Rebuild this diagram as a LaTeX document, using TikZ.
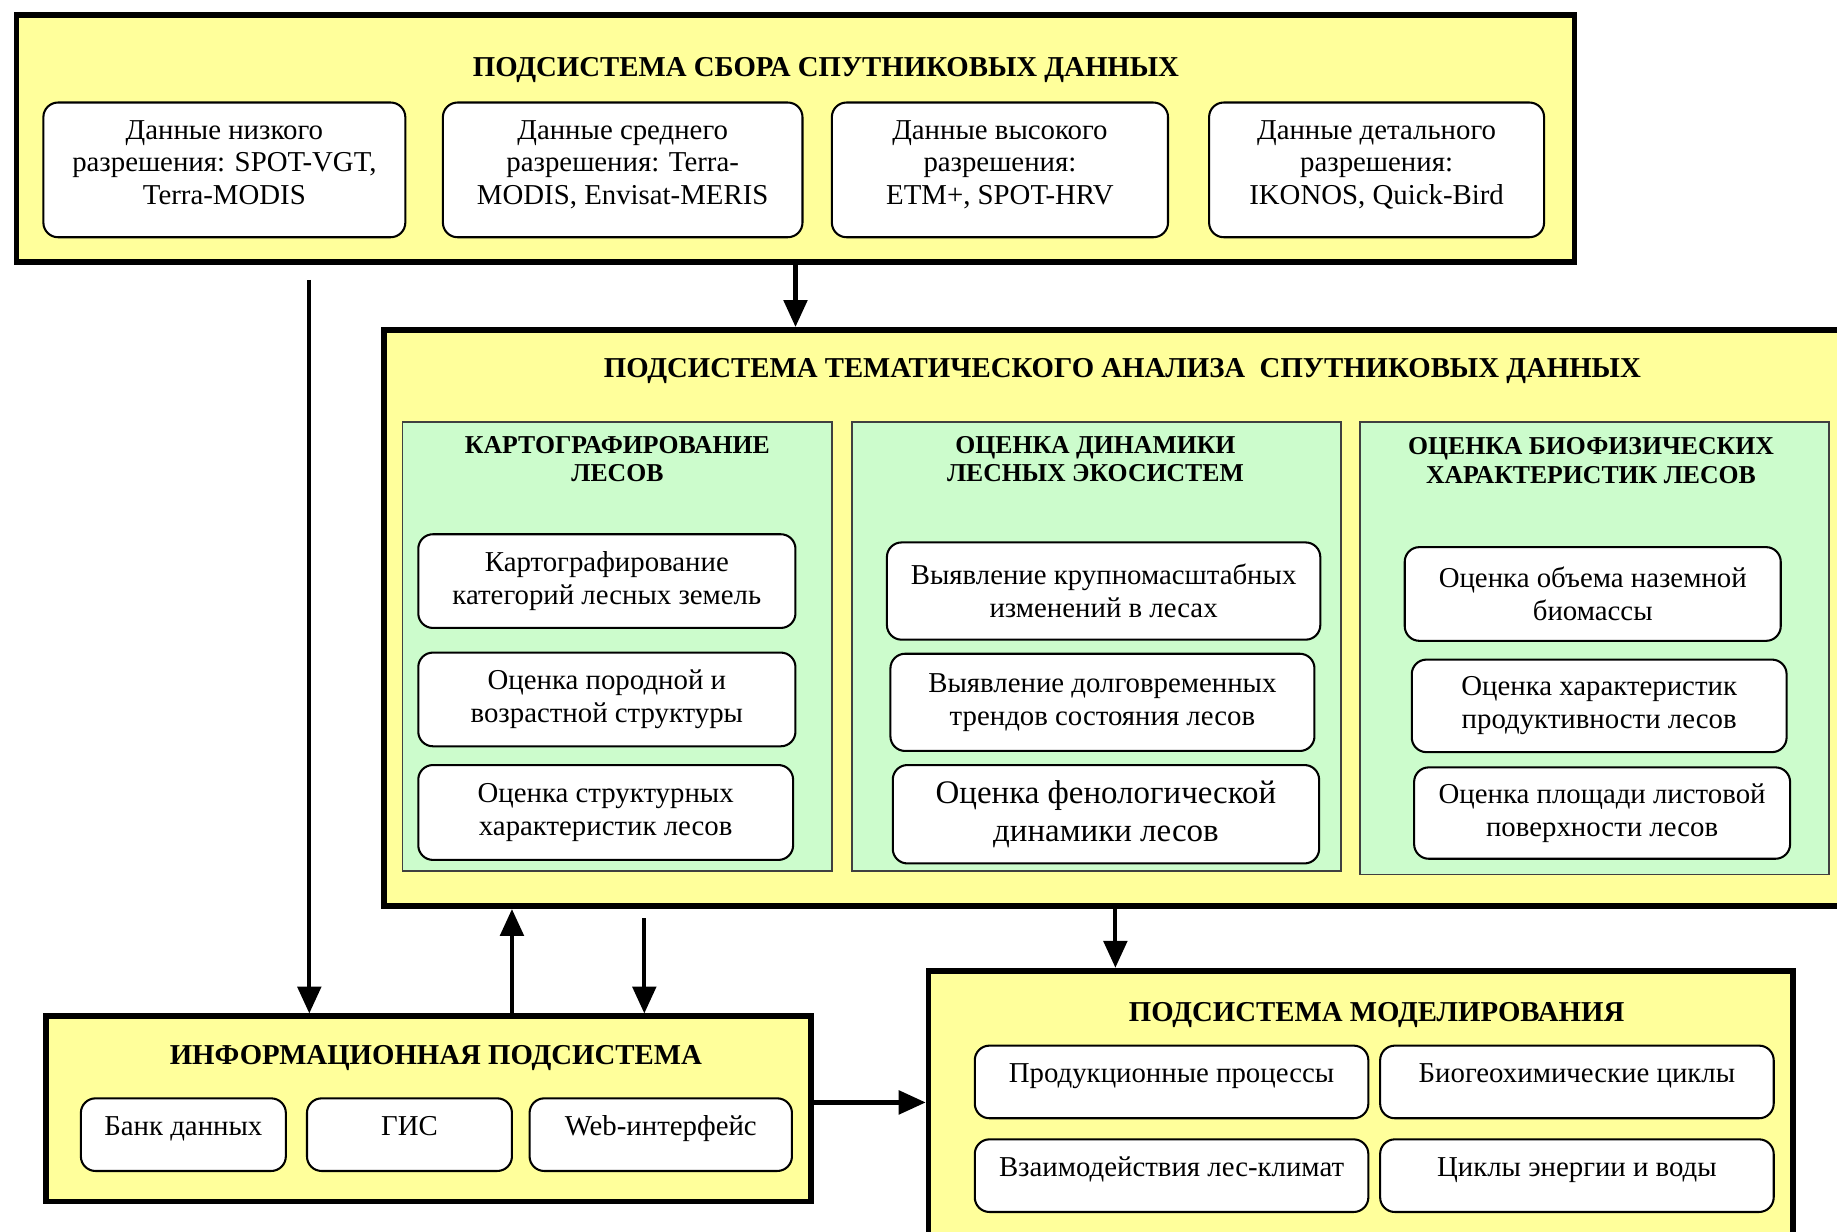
\documentclass[tikz,border=0pt]{standalone}
\usepackage{fontspec}
\setmainfont{Liberation Serif}
\usetikzlibrary{arrows.meta}
\definecolor{subyellow}{RGB}{255,255,155}
\definecolor{grpgreen}{RGB}{204,252,204}
\begin{document}
\begin{tikzpicture}[x=0.02cm, y=-0.02cm,
    sub/.style={draw=black, line width=2.8pt, fill=subyellow, inner sep=0pt},
    grp/.style={draw=black!75, line width=0.9pt, fill=grpgreen, inner sep=0pt},
    item/.style={draw=black, line width=1pt, fill=white, rounded corners=0.25cm,
        align=center, inner sep=0pt, font=\fontsize{14}{16}\selectfont},
    dat/.style={item, minimum height=2.3cm, text depth=0.25cm},
    cell/.style={item, minimum height=1.24cm, text depth=0.3cm},
    ttl/.style={align=center, font=\bfseries\fontsize{14}{17}\selectfont},
    gttl/.style={align=center, font=\bfseries\fontsize{12.5}{13.8}\selectfont},
    arr/.style={line width=2pt, -{Triangle[length=0.46cm,width=0.4cm]}}]
    \clip (0,0) rectangle (1568,1051);
    % Satellite data collection
    \node[sub, minimum width=26.6cm, minimum height=4.22cm] (sbor) at (679,118) {};
    \node[ttl] (sborT) at (705,60) {ПОДСИСТЕМА СБОРА СПУТНИКОВЫХ ДАННЫХ};
    \node[dat, minimum width=6.18cm] (lowres) at (191.5,145) {Данные низкого\\разрешения: SPOT-VGT,\\Terra-MODIS};
    \node[dat, minimum width=6.14cm] (midres) at (531.5,145) {Данные среднего\\разрешения: Terra-\\MODIS, Envisat-MERIS};
    \node[dat, minimum width=5.74cm] (highres) at (853.5,145) {Данные высокого\\разрешения:\\ETM+, SPOT-HRV};
    \node[dat, minimum width=5.72cm] (detres) at (1175,145) {Данные детального\\разрешения:\\IKONOS, Quick-Bird};
    % Thematic analysis
    \node[sub, minimum width=25.4cm, minimum height=9.84cm] (ana) at (962.5,527.5) {};
    \node[ttl] (anaT) at (958,317) {ПОДСИСТЕМА ТЕМАТИЧЕСКОГО АНАЛИЗА\ \ СПУТНИКОВЫХ ДАННЫХ};
    \node[grp, minimum width=7.34cm, minimum height=7.66cm] (carto) at (527,552) {};
    \node[grp, minimum width=8.34cm, minimum height=7.66cm] (dyn) at (936,552) {};
    \node[grp, minimum width=8.02cm, minimum height=7.72cm] (bio) at (1361,553.5) {};
    \node[gttl] (cartoT) at (527,392) {КАРТОГРАФИРОВАНИЕ\\ЛЕСОВ};
    \node[gttl] (dynT) at (935,392) {ОЦЕНКА ДИНАМИКИ\\ЛЕСНЫХ ЭКОСИСТЕМ};
    \node[gttl] (bioT) at (1358,393) {ОЦЕНКА БИОФИЗИЧЕСКИХ\\ХАРАКТЕРИСТИК ЛЕСОВ};
    \node[item, minimum width=6.44cm, minimum height=1.6cm] (cat) at (518,496) {Картографирование\\категорий лесных земель};
    \node[item, minimum width=6.44cm, minimum height=1.6cm] (age) at (518,597) {Оценка породной и\\возрастной структуры};
    \node[item, minimum width=6.4cm, minimum height=1.62cm] (struct) at (517,693.5) {Оценка структурных\\характеристик лесов};
    \node[item, minimum width=7.4cm, minimum height=1.66cm] (large) at (942,504.5) {Выявление крупномасштабных\\изменений в лесах};
    \node[item, minimum width=7.24cm, minimum height=1.66cm] (trend) at (941,599.5) {Выявление долговременных\\трендов состояния лесов};
    \node[item, minimum width=7.28cm, minimum height=1.68cm, font=\fontsize{16}{18.5}\selectfont] (phen) at (944,695) {Оценка фенологической\\динамики лесов};
    \node[item, minimum width=6.42cm, minimum height=1.6cm] (mass) at (1359.5,507) {Оценка объема наземной\\биомассы};
    \node[item, minimum width=6.4cm, minimum height=1.58cm] (prod) at (1365,602.5) {Оценка характеристик\\продуктивности лесов};
    \node[item, minimum width=6.42cm, minimum height=1.56cm] (lai) at (1367.5,694) {Оценка площади листовой\\поверхности лесов};
    % Information subsystem
    \node[sub, minimum width=13.06cm, minimum height=3.16cm] (info) at (366,946.5) {};
    \node[ttl] (infoT) at (372,903) {ИНФОРМАЦИОННАЯ ПОДСИСТЕМА};
    \node[cell, minimum width=3.5cm] (bank) at (156.5,968.5) {Банк данных};
    \node[cell, minimum width=3.5cm] (gis) at (349.5,968.5) {ГИС};
    \node[cell, minimum width=4.48cm] (web) at (564,968.5) {Web-интерфейс};
    % Modelling subsystem
    \node[sub, minimum width=14.76cm, minimum height=5cm] (model) at (1161.5,953.5) {};
    \node[ttl] (modelT) at (1175,866) {ПОДСИСТЕМА МОДЕЛИРОВАНИЯ};
    \node[cell, minimum width=6.72cm] (npp) at (1000,923.5) {Продукционные процессы};
    \node[cell, minimum width=6.72cm] (bgc) at (1346,923.5) {Биогеохимические циклы};
    \node[cell, minimum width=6.72cm] (clim) at (1000,1003.5) {Взаимодействия лес-климат};
    \node[cell, minimum width=6.72cm] (water) at (1346,1003.5) {Циклы энергии и воды};
    % Connectors
    \coordinate (inA) at ([xshift=-2.04cm]info.north);
    \coordinate (inB) at ([xshift=1.42cm]info.north);
    \coordinate (inC) at ([xshift=3.68cm]info.north);
    \coordinate (mdA) at ([xshift=-4.19cm]model.north);
    \draw[arr] (sbor.south) -- (sbor.south |- ana.north);
    \draw[arr, shorten <=0.26cm] (sbor.south -| inA) -- (inA);
    \draw[arr] (inB) -- (inB |- ana.south);
    \draw[arr, shorten <=0.16cm] (inC |- ana.south) -- (inC);
    \draw[arr] (mdA |- ana.south) -- (mdA);
    \draw[arr] ([yshift=0.11cm]info.east) -- ([yshift=0.11cm]info.east -| model.west);
\end{tikzpicture}
\end{document}
